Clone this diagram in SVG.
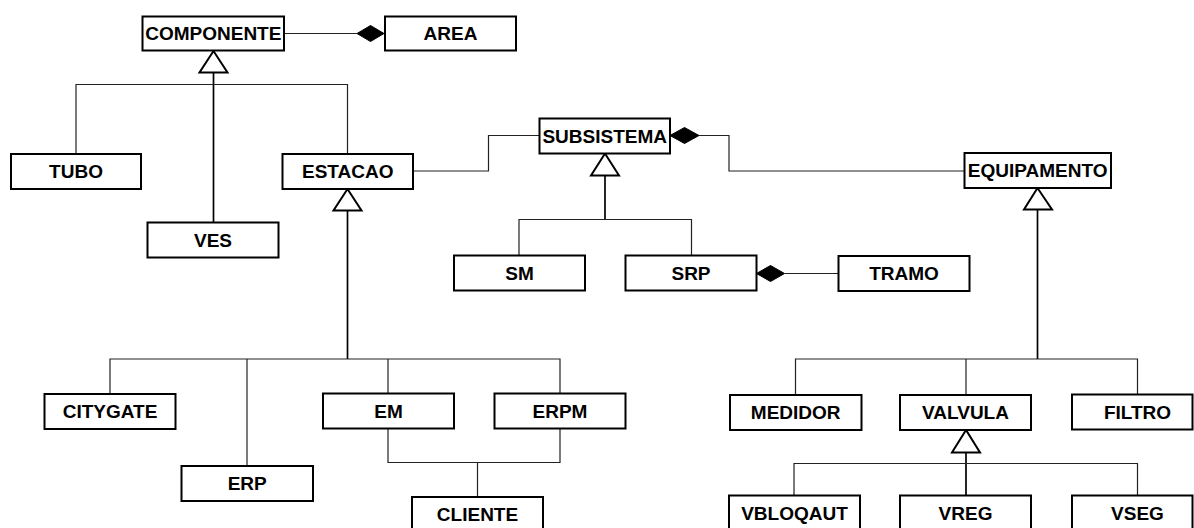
<svg xmlns="http://www.w3.org/2000/svg" width="1194" height="528" viewBox="0 0 1194 528">
<style>
.box rect{fill:#fff;stroke:#000;stroke-width:2}
.box text{font-family:"Liberation Sans",Arial,sans-serif;font-weight:bold;font-size:19px;fill:#000;text-anchor:middle}
.ln{fill:none;stroke:#222;stroke-width:1.2}
.tr{fill:none;stroke:#000;stroke-width:1.7}
.tri{fill:#fff;stroke:#000;stroke-width:2;stroke-linejoin:miter}
.dia{fill:#000;stroke:#000;stroke-width:1}
</style>
<rect width="1194" height="528" fill="#fff"/>
<g id="connectors">
  <line class="ln" x1="284" y1="33.5" x2="357" y2="33.5"/>
  <polygon class="dia" points="357,33.5 370.5,25.5 384,33.5 370.5,41.5"/>
  <line class="tr" x1="213.5" y1="72.5" x2="213.5" y2="222.5"/>
  <polyline class="ln" points="76,154 76,84.5 347.5,84.5 347.5,154"/>
  <polygon class="tri" points="213.5,51 199.5,72.5 227.5,72.5"/>
  <polyline class="ln" points="413,171 488.5,171 488.5,135.5 539.5,135.5"/>
  <polyline class="ln" points="699,135.5 729,135.5 729,171 964.5,171"/>
  <polygon class="dia" points="670,135.5 684.5,127.5 699,135.5 684.5,143.5"/>
  <line class="tr" x1="605" y1="175.5" x2="605" y2="219.5"/>
  <polyline class="ln" points="519,255.5 519,219.5 691.5,219.5 691.5,255.5"/>
  <polygon class="tri" points="605,153.5 591,175.5 619,175.5"/>
  <line class="ln" x1="784.5" y1="273.5" x2="838.5" y2="273.5"/>
  <polygon class="dia" points="756.5,273.5 770.5,265.5 784.5,273.5 770.5,281.5"/>
  <line class="tr" x1="347.5" y1="210.5" x2="347.5" y2="359"/>
  <polyline class="ln" points="110,394 110,359 560,359 560,393.5"/>
  <line class="ln" x1="247" y1="359" x2="247" y2="466"/>
  <line class="ln" x1="388" y1="359" x2="388" y2="393.5"/>
  <polygon class="tri" points="347.5,189 333.5,210.5 361.5,210.5"/>
  <polyline class="ln" points="388,428.5 388,462.5 560,462.5 560,428.5"/>
  <line class="ln" x1="477.5" y1="462.5" x2="477.5" y2="497"/>
  <line class="tr" x1="1037.5" y1="209.5" x2="1037.5" y2="359"/>
  <polyline class="ln" points="795.5,395 795.5,359 1137.5,359 1137.5,394.5"/>
  <line class="ln" x1="966" y1="359" x2="966" y2="395"/>
  <polygon class="tri" points="1037.5,188 1024,209.5 1052,209.5"/>
  <line class="tr" x1="966" y1="452.5" x2="966" y2="495.5"/>
  <polyline class="ln" points="794,495.5 794,463.5 1137.5,463.5 1137.5,495.5"/>
  <polygon class="tri" points="966,430 952,452.5 980,452.5"/>
</g>
<g id="n-componente" class="box"><rect x="142.5" y="16.5" width="141.5" height="34"/><text x="213.3" y="40.3">COMPONENTE</text></g>
<g id="n-area" class="box"><rect x="385" y="16.5" width="131" height="34"/><text x="450.5" y="40.3">AREA</text></g>
<g id="n-tubo" class="box"><rect x="11" y="154" width="130" height="35"/><text x="76" y="178.3">TUBO</text></g>
<g id="n-estacao" class="box"><rect x="282.5" y="154" width="130.5" height="35"/><text x="347.7" y="178.3">ESTACAO</text></g>
<g id="n-ves" class="box"><rect x="147.5" y="222.5" width="131" height="35"/><text x="213" y="246.8">VES</text></g>
<g id="n-subsistema" class="box"><rect x="539.5" y="118.5" width="130.5" height="35"/><text x="604.7" y="142.8">SUBSISTEMA</text></g>
<g id="n-equipamento" class="box"><rect x="964.5" y="153" width="146.5" height="35"/><text x="1037.7" y="177.3">EQUIPAMENTO</text></g>
<g id="n-sm" class="box"><rect x="454" y="255.5" width="131" height="35"/><text x="519.5" y="279.8">SM</text></g>
<g id="n-srp" class="box"><rect x="625.5" y="255.5" width="131" height="35"/><text x="691" y="279.8">SRP</text></g>
<g id="n-tramo" class="box"><rect x="838.5" y="256" width="131" height="35"/><text x="904" y="280.3">TRAMO</text></g>
<g id="n-citygate" class="box"><rect x="44.5" y="394" width="131" height="35"/><text x="110" y="418.3">CITYGATE</text></g>
<g id="n-erp" class="box"><rect x="181.5" y="466" width="131.5" height="35"/><text x="247.2" y="490.3">ERP</text></g>
<g id="n-em" class="box"><rect x="323" y="393.5" width="131" height="35"/><text x="388.5" y="417.8">EM</text></g>
<g id="n-erpm" class="box"><rect x="494.5" y="393.5" width="131" height="35"/><text x="560" y="417.8">ERPM</text></g>
<g id="n-cliente" class="box"><rect x="412" y="497" width="131" height="35"/><text x="477.5" y="521.3">CLIENTE</text></g>
<g id="n-medidor" class="box"><rect x="730" y="395" width="131.5" height="35"/><text x="795.7" y="419.3">MEDIDOR</text></g>
<g id="n-valvula" class="box"><rect x="900" y="395" width="131" height="35"/><text x="965.5" y="419.3">VALVULA</text></g>
<g id="n-filtro" class="box"><rect x="1072" y="394.5" width="120.5" height="35"/><text x="1137.5" y="418.8">FILTRO</text></g>
<g id="n-vbloqaut" class="box"><rect x="729" y="495.5" width="131" height="35"/><text x="794.5" y="519.8">VBLOQAUT</text></g>
<g id="n-vreg" class="box"><rect x="900" y="495.5" width="131" height="35"/><text x="965.5" y="519.8">VREG</text></g>
<g id="n-vseg" class="box"><rect x="1072" y="495.5" width="120.5" height="35"/><text x="1137.5" y="519.8">VSEG</text></g>
</svg>
